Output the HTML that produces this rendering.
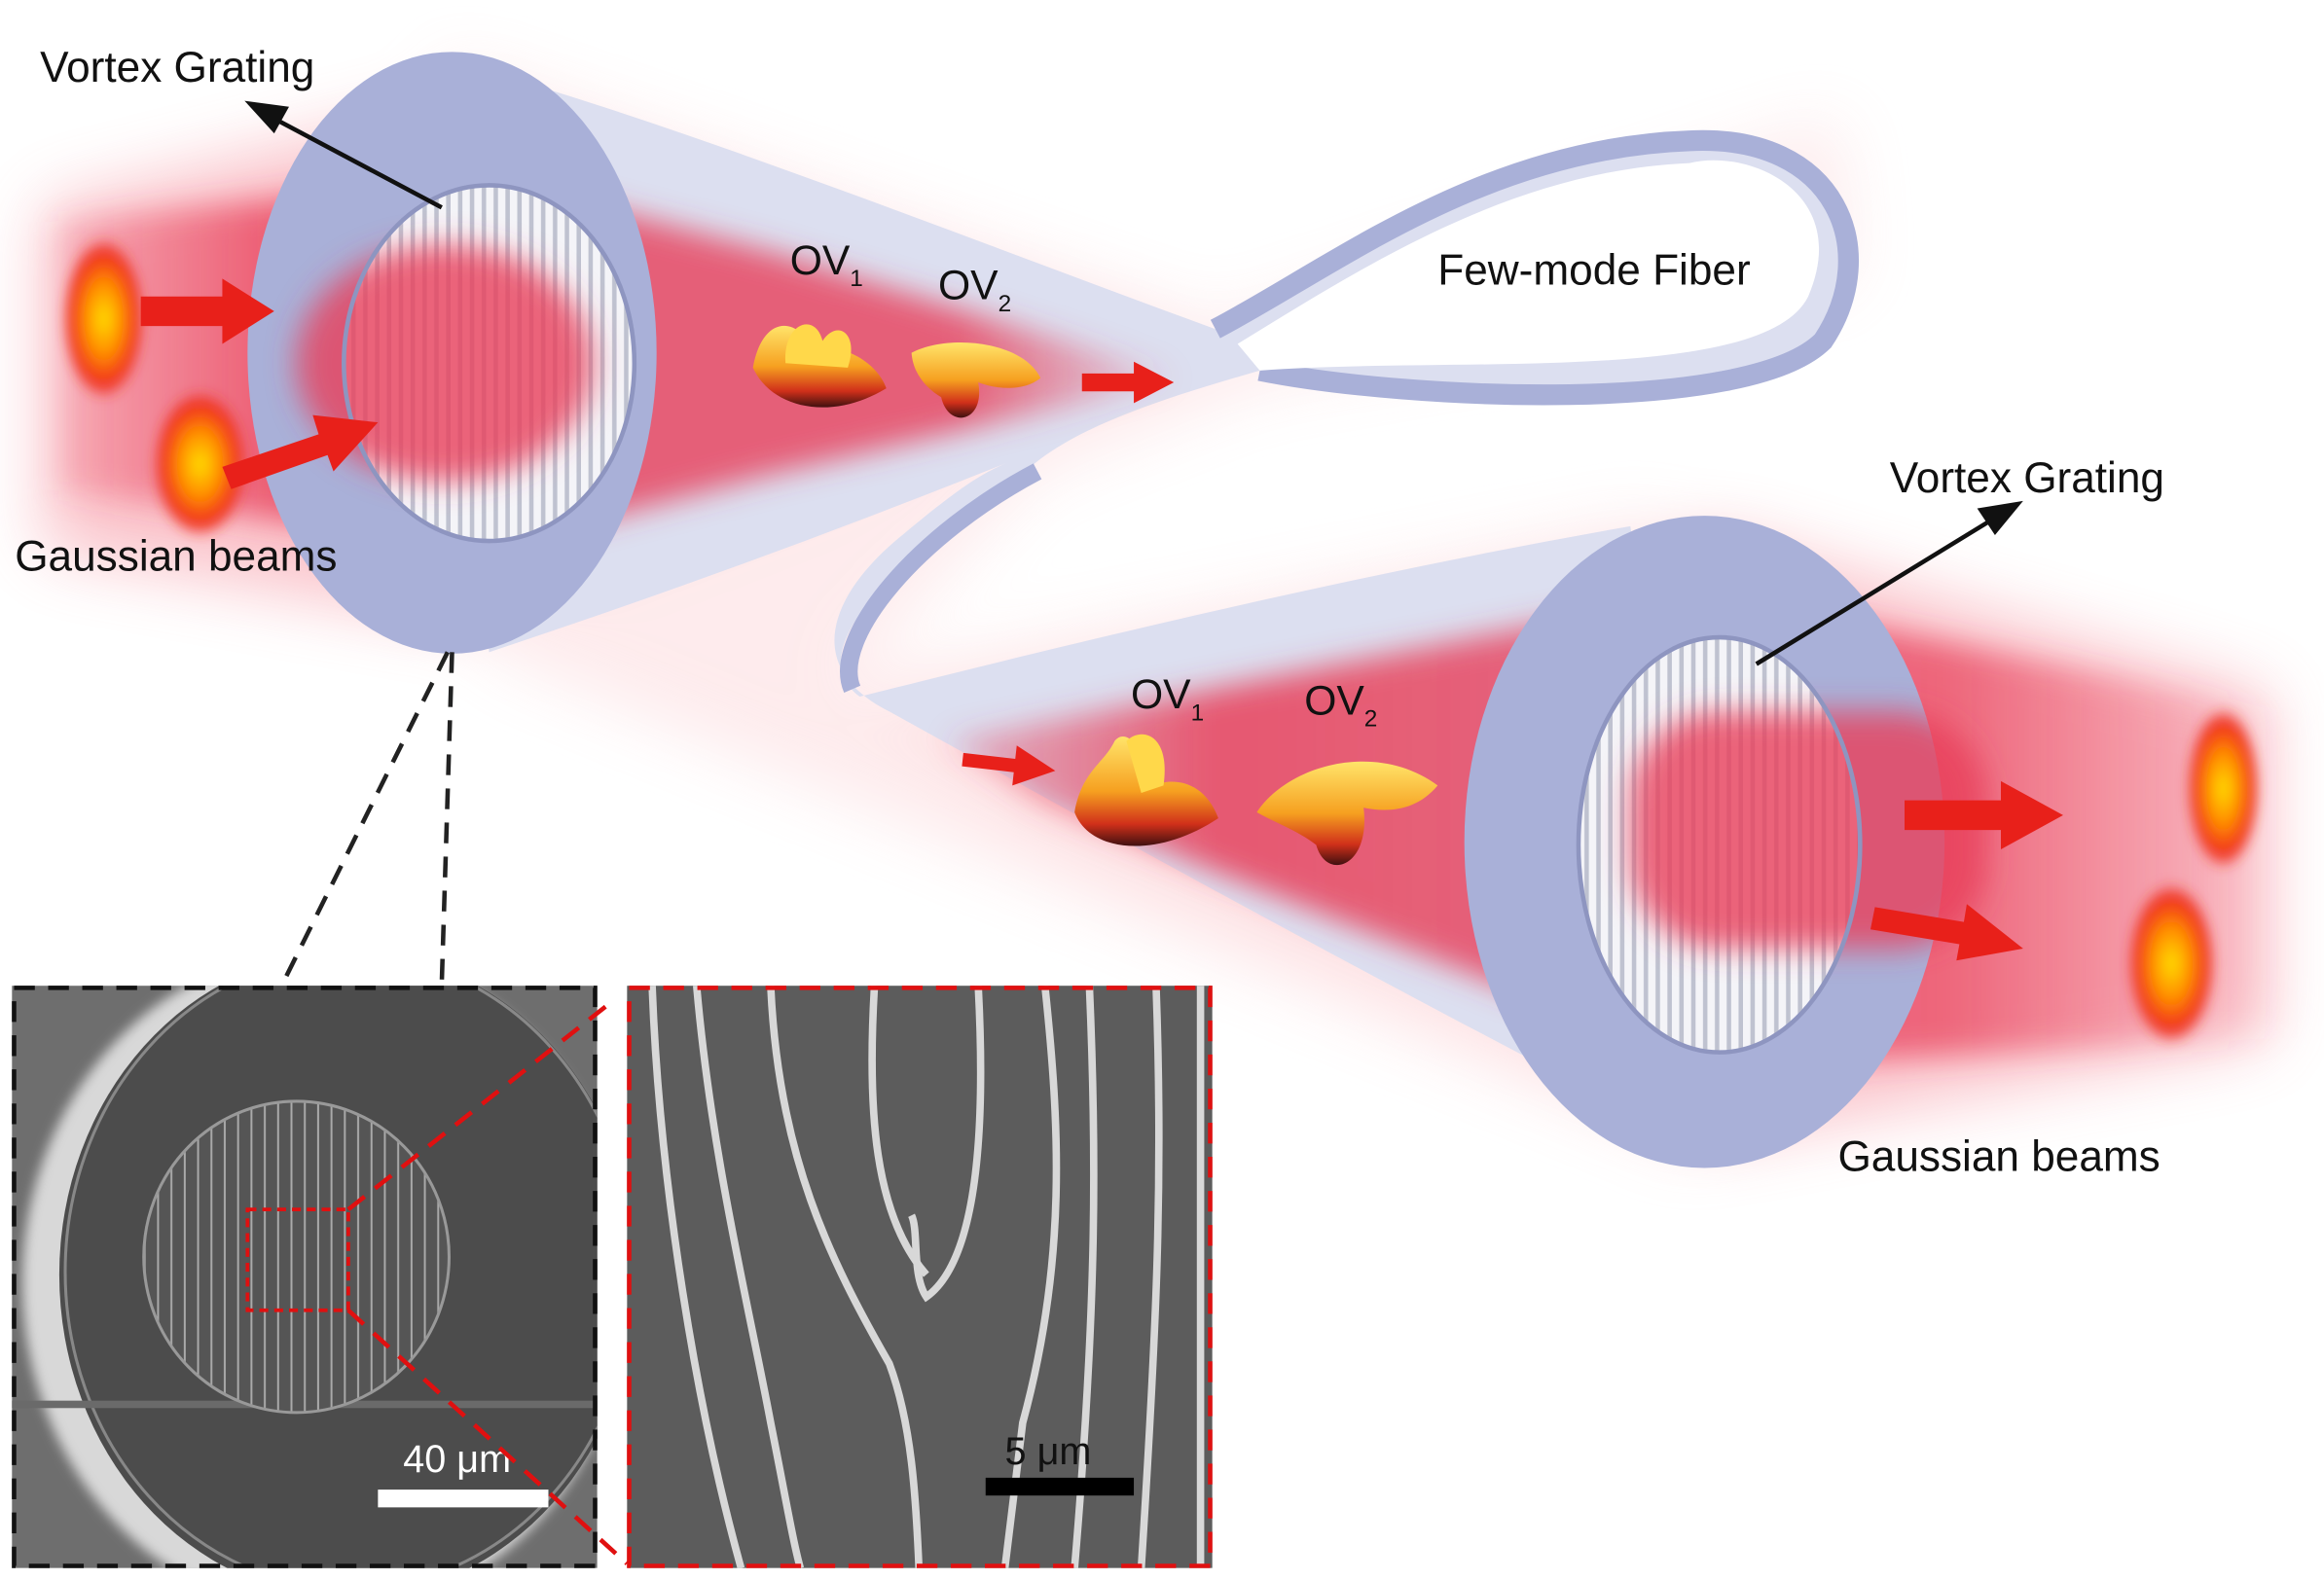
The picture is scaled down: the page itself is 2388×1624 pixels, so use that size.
<!DOCTYPE html>
<html><head><meta charset="utf-8"><style>
html,body{margin:0;padding:0;background:#fff;width:2388px;height:1624px;overflow:hidden}
svg{display:block}
text{font-family:"Liberation Sans",Arial,sans-serif;fill:#111}
</style></head><body>
<svg width="2388" height="1624" viewBox="0 0 1568 1066" preserveAspectRatio="none" xmlns="http://www.w3.org/2000/svg">
<defs>
<filter id="b20" x="-50%" y="-50%" width="200%" height="200%"><feGaussianBlur stdDeviation="22"/></filter>
<filter id="b8" x="-50%" y="-50%" width="200%" height="200%"><feGaussianBlur stdDeviation="10"/></filter>
<filter id="b4" x="-50%" y="-50%" width="200%" height="200%"><feGaussianBlur stdDeviation="4"/></filter>
<radialGradient id="spot"><stop offset="0" stop-color="#ffe000"/><stop offset="0.45" stop-color="#ff8a00"/><stop offset="0.8" stop-color="#f03020"/><stop offset="1" stop-color="#f03020" stop-opacity="0"/></radialGradient>
<linearGradient id="ov" x1="0" y1="0" x2="0" y2="1"><stop offset="0" stop-color="#ffe46a"/><stop offset="0.5" stop-color="#f6a020"/><stop offset="0.8" stop-color="#d0301a"/><stop offset="1" stop-color="#401010"/></linearGradient>
<linearGradient id="lb" x1="0" y1="0" x2="1" y2="0"><stop offset="0" stop-color="#e8405a" stop-opacity="0.2"/><stop offset="0.2" stop-color="#e8405a" stop-opacity="0.8"/><stop offset="0.8" stop-color="#e8405a" stop-opacity="0.8"/><stop offset="1" stop-color="#e8405a" stop-opacity="0"/></linearGradient>
<linearGradient id="rb" x1="0" y1="0" x2="1" y2="0"><stop offset="0" stop-color="#e8405a" stop-opacity="0.3"/><stop offset="0.2" stop-color="#e8405a" stop-opacity="0.85"/><stop offset="0.75" stop-color="#e8405a" stop-opacity="0.7"/><stop offset="1" stop-color="#e8405a" stop-opacity="0"/></linearGradient>
<pattern id="grat" width="8" height="10" patternUnits="userSpaceOnUse"><rect width="8" height="10" fill="#f4f4f8"/><rect x="5" width="3" height="10" fill="#bfc2d0"/></pattern>
<pattern id="sem" width="9" height="10" patternUnits="userSpaceOnUse"><rect width="9" height="10" fill="#555"/><rect x="7" width="1.3" height="10" fill="#aaa"/></pattern>
<clipPath id="c1"><rect x="8" y="665" width="395" height="393"/></clipPath>
<clipPath id="c2"><rect x="423" y="665" width="395" height="393"/></clipPath>
</defs>

<!-- soft halos -->
<g filter="url(#b20)" opacity="0.45">
<path d="M30 140 L310 70 L800 230 L310 420 L30 370 Z" fill="#f47888"/>
<path d="M600 480 L1160 360 L1530 470 L1530 700 L1160 770 L700 560 Z" fill="#f47888"/>
<path d="M300 40 L820 220 L1240 80 L1250 190 L850 260 L700 320 L570 460 L1120 350 L1150 780 L330 440 Z" fill="#fbc8cc" opacity="0.8"/>
</g>

<!-- fiber body -->
<path d="M300 40 C450 80 650 160 820 222 C900 180 1000 100 1140 95 C1240 90 1270 170 1230 230 C1180 280 950 270 850 250 C780 270 720 290 690 320 C600 380 540 440 580 470 C700 440 900 390 1100 355 L1160 780 C1000 700 780 580 600 480 C540 450 560 400 610 360 C640 335 660 320 680 312 C560 360 450 400 330 440 Z" fill="#dcdff0"/>
<path d="M820 222 C900 180 1000 100 1140 95 C1240 90 1270 170 1230 230 C1180 280 950 270 850 250" fill="none" stroke="#a9b0d8" stroke-width="14"/>
<path d="M850 250 C980 240 1190 260 1220 200 C1250 130 1180 100 1140 110 C1020 115 920 180 835 232" fill="#fff"/>
<path d="M700 318 C620 360 560 430 575 465" fill="none" stroke="#a9b0d8" stroke-width="12"/>

<!-- beams inside fiber -->
<g filter="url(#b8)">
<path d="M40 150 L330 120 L520 170 L800 255 L520 320 L330 370 L40 330 Z" fill="url(#lb)"/>
<path d="M640 500 L1150 400 L1540 480 L1540 700 L1150 720 L700 540 Z" fill="url(#rb)"/>
</g>

<!-- left end -->
<ellipse cx="305" cy="238" rx="138" ry="203" fill="#a9b0d8"/>
<ellipse cx="330" cy="245" rx="98" ry="120" fill="url(#grat)"/>
<g filter="url(#b8)"><ellipse cx="300" cy="245" rx="100" ry="80" fill="#e8405a" opacity="0.8"/></g>
<ellipse cx="330" cy="245" rx="98" ry="120" fill="none" stroke="#8e95c0" stroke-width="3"/>

<!-- right end -->
<ellipse cx="1150" cy="568" rx="162" ry="220" fill="#a9b0d8"/>
<ellipse cx="1160" cy="570" rx="95" ry="140" fill="url(#grat)"/>
<g filter="url(#b8)"><rect x="1100" y="480" width="240" height="160" rx="60" fill="#e8405a" opacity="0.8"/></g>
<ellipse cx="1160" cy="570" rx="95" ry="140" fill="none" stroke="#8e95c0" stroke-width="3"/>

<!-- gaussian spots -->
<g filter="url(#b4)">
<ellipse cx="70" cy="215" rx="28" ry="55" fill="url(#spot)"/>
<ellipse cx="135" cy="313" rx="32" ry="50" fill="url(#spot)"/>
<ellipse cx="1500" cy="532" rx="25" ry="55" fill="url(#spot)"/>
<ellipse cx="1465" cy="650" rx="30" ry="55" fill="url(#spot)"/>
</g>
<g fill="#e8201a">
<path d="M95 200 L150 200 L150 188 L185 210 L150 232 L150 220 L95 220 Z"/>
<path d="M150 315 L215 293 L211 280 L255 285 L225 318 L221 307 L156 330 Z"/>
<path d="M730 252 L765 252 L765 244 L792 258 L765 272 L765 264 L730 264 Z"/>
<path d="M650 508 L685 512 L686 503 L712 520 L683 530 L684 521 L649 517 Z"/>
<path d="M1285 540 L1350 540 L1350 527 L1392 550 L1350 573 L1350 560 L1285 560 Z"/>
<path d="M1265 612 L1325 622 L1327 610 L1365 640 L1320 648 L1322 637 L1262 627 Z"/>
</g>

<!-- OV shapes -->
<g>
<path d="M508 248 C520 275 560 285 598 262 C590 240 560 230 548 236 C540 215 515 210 508 248 Z" fill="url(#ov)"/>
<path d="M530 245 C528 218 550 210 555 230 C565 215 580 225 572 248 Z" fill="#ffd84a"/>
<path d="M615 238 C640 225 690 230 702 255 C690 265 670 262 660 258 C665 285 640 290 635 268 C625 262 616 252 615 238 Z" fill="url(#ov)"/>
<path d="M725 548 C735 575 780 580 822 552 C810 520 780 525 770 535 C775 505 760 490 752 500 C745 515 730 520 725 548 Z" fill="url(#ov)"/>
<path d="M760 500 C770 490 790 495 785 530 L770 535 Z" fill="#ffd84a"/>
<path d="M848 548 C870 515 930 500 970 530 C955 548 935 548 920 545 C925 585 895 595 888 570 C875 560 860 555 848 548 Z" fill="url(#ov)"/>
</g>

<g stroke="#111" stroke-width="3" fill="#111">
<line x1="298" y1="140" x2="185" y2="80"/>
<path d="M165 68 L195 72 L185 90 Z" stroke="none"/>
<line x1="1185" y1="448" x2="1345" y2="350"/>
<path d="M1365 338 L1334 343 L1346 361 Z" stroke="none"/>
</g>

<text x="27" y="55" font-size="29">Vortex Grating</text>
<text x="10" y="385" font-size="29">Gaussian beams</text>
<text x="970" y="192" font-size="29">Few-mode Fiber</text>
<text x="1275" y="332" font-size="29">Vortex Grating</text>
<text x="1240" y="790" font-size="29">Gaussian beams</text>
<text x="533" y="185" font-size="28">OV<tspan font-size="16" dy="8">1</tspan></text>
<text x="633" y="202" font-size="28">OV<tspan font-size="16" dy="8">2</tspan></text>
<text x="763" y="478" font-size="28">OV<tspan font-size="16" dy="8">1</tspan></text>
<text x="880" y="482" font-size="28">OV<tspan font-size="16" dy="8">2</tspan></text>

<g stroke="#222" stroke-width="3" stroke-dasharray="14 9" fill="none">
<line x1="302" y1="440" x2="190" y2="665"/>
<line x1="305" y1="440" x2="298" y2="665"/>
</g>

<!-- left SEM -->
<g clip-path="url(#c1)">
<rect x="8" y="665" width="395" height="393" fill="#6e6e6e"/>
<ellipse cx="220" cy="865" rx="205" ry="225" fill="#d8d8d8" filter="url(#b4)"/>
<ellipse cx="235" cy="860" rx="195" ry="218" fill="#4c4c4c"/>
<ellipse cx="236" cy="858" rx="192" ry="214" fill="none" stroke="#888" stroke-width="2"/>
<rect x="8" y="945" width="395" height="5" fill="#6a6a6a"/>
<ellipse cx="200" cy="848" rx="103" ry="105" fill="url(#sem)" stroke="#999" stroke-width="2"/>
<rect x="255" y="1005" width="115" height="12" fill="#fff"/>
<text x="272" y="993" font-size="26" style="fill:#fff">40 μm</text>
</g>
<rect x="9.5" y="666.5" width="392" height="390" fill="none" stroke="#111" stroke-width="3" stroke-dasharray="14 9"/>
<rect x="167" y="816" width="68" height="68" fill="none" stroke="#e01010" stroke-width="2.5" stroke-dasharray="6 4"/>

<!-- right SEM -->
<g clip-path="url(#c2)">
<rect x="423" y="665" width="395" height="393" fill="#5c5c5c"/>
<g stroke="#d8d8d8" stroke-width="5" fill="none">
<path d="M440 665 C445 800 470 950 500 1058"/>
<path d="M470 665 C480 780 505 880 520 960 C530 1010 535 1040 540 1058"/>
<path d="M520 665 C525 780 560 850 600 920 C615 960 618 1010 620 1058"/>
<path d="M590 665 C585 750 590 820 625 860"/>
<path d="M660 665 C665 760 660 850 625 875 C615 860 620 830 615 820"/>
<path d="M705 665 C715 760 720 850 690 960 C685 1000 680 1040 678 1058"/>
<path d="M735 665 C740 780 740 880 725 1058"/>
<path d="M780 665 C785 800 780 900 770 1058"/>
<path d="M810 665 L810 1058"/>
</g>
<rect x="665" y="997" width="100" height="12" fill="#000"/>
<text x="678" y="988" font-size="26">5 μm</text>
</g>
<rect x="424.5" y="666.5" width="392" height="390" fill="none" stroke="#e01010" stroke-width="3" stroke-dasharray="14 9"/>
<g stroke="#e01010" stroke-width="3" stroke-dasharray="14 9">
<line x1="235" y1="816" x2="410" y2="678"/>
<line x1="235" y1="884" x2="423" y2="1055"/>
</g>
</svg>
</body></html>
